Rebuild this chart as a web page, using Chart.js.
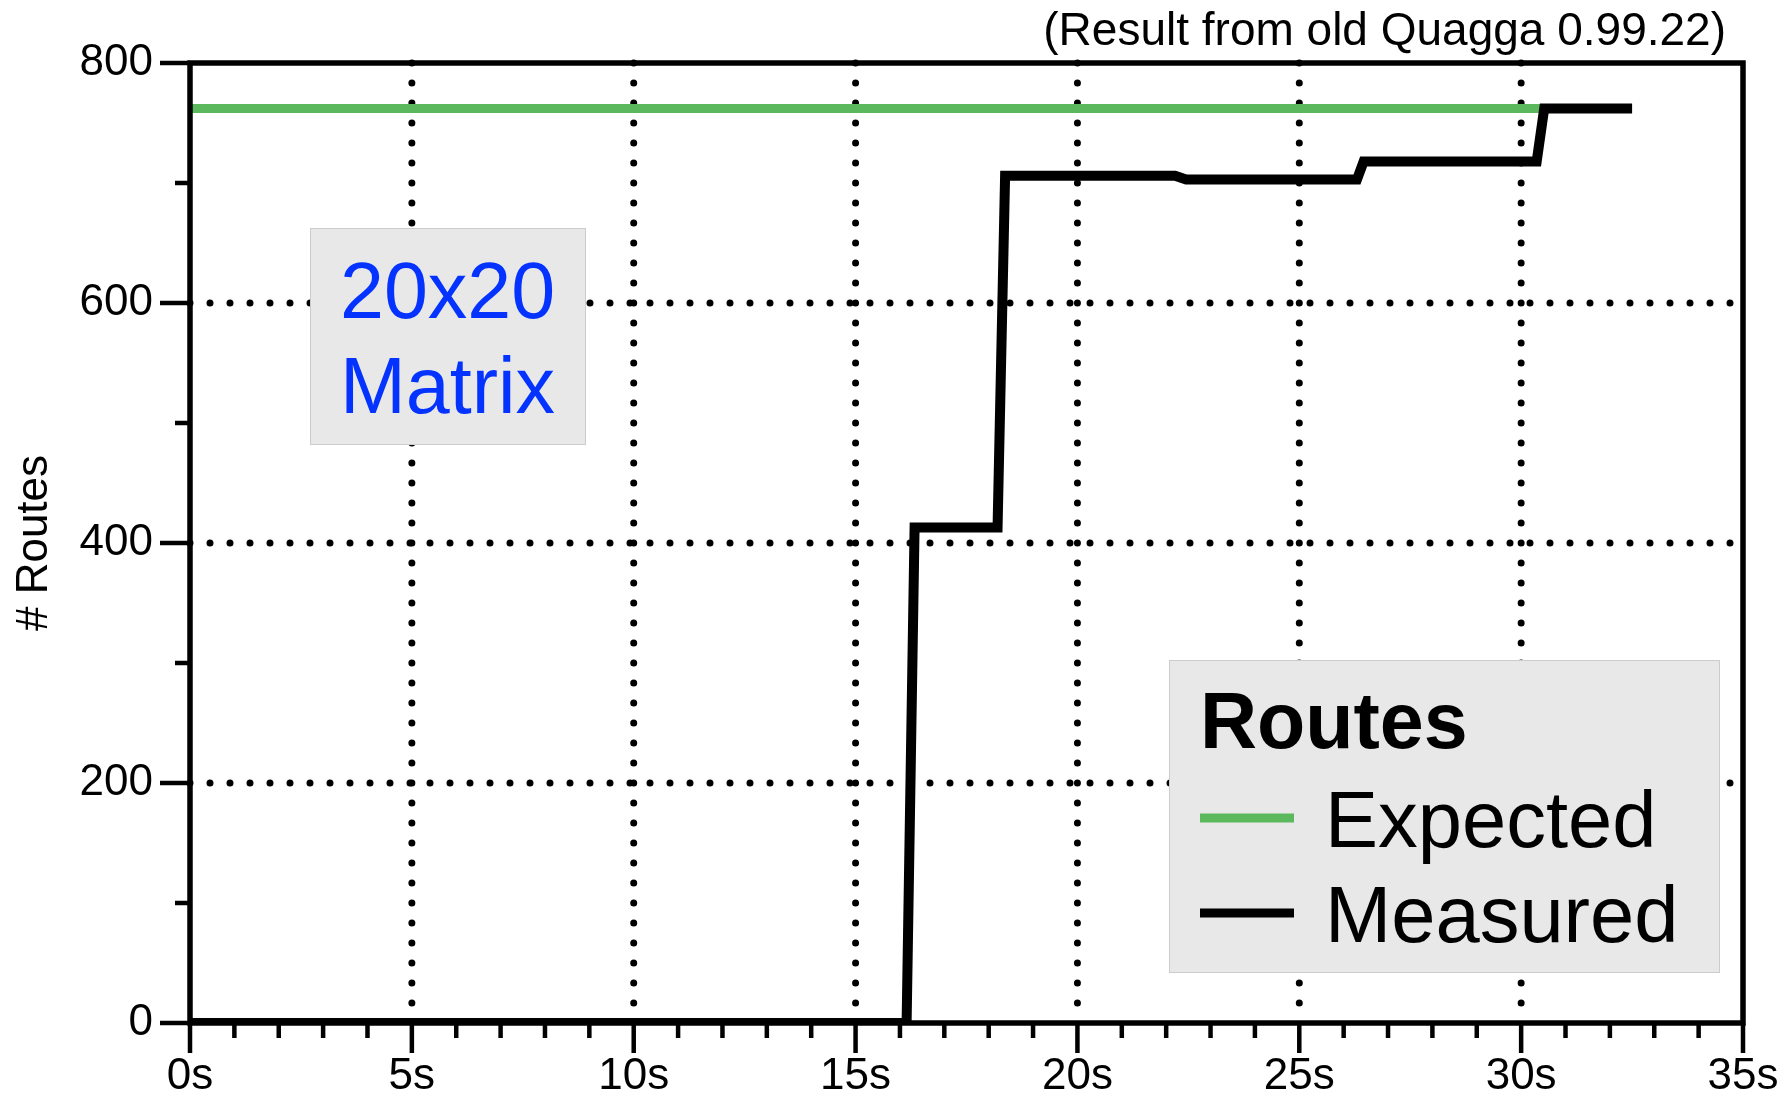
<!DOCTYPE html>
<html><head><meta charset="utf-8">
<script src="https://cdn.jsdelivr.net/npm/chart.js@4/dist/chart.umd.min.js"></script>
<style>html,body{margin:0;padding:0;background:#fff;} #wrap{width:1785px;height:1099px;position:relative;}</style>
</head><body><div id="wrap"><canvas id="c"></canvas></div>
<script>
// ---- data ----
const measuredTimes  = [0, 16.15, 16.33, 18.2, 18.37, 22.2, 22.45, 26.3, 26.45, 30.35, 30.52, 32.5];
const measuredRoutes = [0, 0,     413,   413,  706,   706,  703,   703,  718,   718,   762,   762];
const expectedTimes  = [0, 32.5];
const expectedRoutes = [762, 762];
const xMajorTicks = [0, 5, 10, 15, 20, 25, 30, 35];
const xMinorStep = 1;
const yMajorTicks = [0, 200, 400, 600, 800];
const yMinorStep = 100;
const seriesNames  = ['Expected', 'Measured'];
const seriesColors = ['#5cb85c', '#000000'];
const legendTitle = 'Routes';
const annotationLines = ['20x20', 'Matrix'];
const subtitle = '(Result from old Quagga 0.99.22)';
const yTitle = '# Routes';

const FONT = '"Liberation Sans", Arial, Helvetica, sans-serif';

const decor = {
  id: 'decor',
  beforeDatasetsDraw(chart) {
    const {ctx, chartArea: a, scales: {x, y}} = chart;
    ctx.save();
    ctx.strokeStyle = '#000'; ctx.lineWidth = 7; ctx.lineCap = 'round'; ctx.setLineDash([0, 20]);
    xMajorTicks.forEach(v => {
      if (v <= x.min || v >= x.max) return;
      const px = x.getPixelForValue(v);
      ctx.beginPath(); ctx.moveTo(px, a.top); ctx.lineTo(px, a.bottom); ctx.stroke();
    });
    yMajorTicks.forEach(v => {
      if (v <= y.min || v >= y.max) return;
      const py = y.getPixelForValue(v);
      ctx.beginPath(); ctx.moveTo(a.left, py); ctx.lineTo(a.right, py); ctx.stroke();
    });
    ctx.restore();
  },
  afterDatasetsDraw(chart) {
    const {ctx, chartArea: a, scales: {x, y}} = chart;
    ctx.save();
    ctx.setLineDash([]);
    // frame
    ctx.strokeStyle = '#000'; ctx.lineWidth = 5.5;
    ctx.strokeRect(a.left, a.top, a.right - a.left, a.bottom - a.top);
    // ticks
    ctx.lineWidth = 4.5; ctx.lineCap = 'butt';
    for (let v = x.min; v <= x.max + 1e-9; v += xMinorStep) {
      const px = x.getPixelForValue(v);
      const len = xMajorTicks.includes(v) ? 30 : 15;
      ctx.beginPath(); ctx.moveTo(px, a.bottom); ctx.lineTo(px, a.bottom + len); ctx.stroke();
    }
    for (let v = y.min; v <= y.max + 1e-9; v += yMinorStep) {
      const py = y.getPixelForValue(v);
      const len = yMajorTicks.includes(v) ? 30 : 15;
      ctx.beginPath(); ctx.moveTo(a.left, py); ctx.lineTo(a.left - len, py); ctx.stroke();
    }
    // annotation box
    ctx.fillStyle = '#e8e8e8'; ctx.strokeStyle = '#cccccc'; ctx.lineWidth = 1;
    ctx.fillRect(310, 228, 275, 216); ctx.strokeRect(310.5, 228.5, 275, 216);
    ctx.fillStyle = '#0433ff'; ctx.font = '79px ' + FONT; ctx.textAlign = 'left'; ctx.textBaseline = 'alphabetic';
    ctx.fillText(annotationLines[0], 340, 318);
    ctx.fillText(annotationLines[1], 340, 413);
    // legend box
    ctx.fillStyle = '#e8e8e8'; ctx.strokeStyle = '#cccccc';
    ctx.fillRect(1169, 660, 550, 312); ctx.strokeRect(1169.5, 660.5, 550, 312);
    ctx.fillStyle = '#000'; ctx.font = 'bold 79px ' + FONT;
    ctx.fillText(legendTitle, 1200, 748);
    const ds = chart.data.datasets;
    const rows = [818, 913], base = [847, 942];
    ds.forEach((d, i) => {
      ctx.strokeStyle = d.borderColor; ctx.lineWidth = 9;
      ctx.beginPath(); ctx.moveTo(1200, rows[i]); ctx.lineTo(1294, rows[i]); ctx.stroke();
      ctx.fillStyle = '#000'; ctx.font = '79.5px ' + FONT;
      ctx.fillText(d.label, 1325, base[i]);
    });
    // subtitle
    ctx.fillStyle = '#000'; ctx.font = '46px ' + FONT; ctx.textAlign = 'right';
    ctx.fillText(subtitle, 1726, 45);
    ctx.restore();
  }
};

const toPts = (xs, ys) => xs.map((t, i) => ({x: t, y: ys[i]}));

new Chart(document.getElementById('c'), {
  type: 'line',
  data: {
    datasets: [
      {label: seriesNames[0], data: toPts(expectedTimes, expectedRoutes), borderColor: seriesColors[0], order: 2,
       borderWidth: 9, pointRadius: 0, tension: 0, fill: false, borderCapStyle: 'butt', borderJoinStyle: 'miter'},
      {label: seriesNames[1], data: toPts(measuredTimes, measuredRoutes), borderColor: seriesColors[1], order: 1,
       borderWidth: 10, pointRadius: 0, tension: 0, fill: false, borderCapStyle: 'butt', borderJoinStyle: 'miter'}
    ]
  },
  options: {
    responsive: true, maintainAspectRatio: false, animation: false, devicePixelRatio: 1,
    layout: {padding: {top: 63, right: 42, left: 0, bottom: 0}},
    plugins: {legend: {display: false}, tooltip: {enabled: false}, title: {display: false}},
    scales: {
      x: {
        type: 'linear', min: 0, max: 35,
        grid: {display: false}, border: {display: false},
        afterBuildTicks: s => { s.ticks = xMajorTicks.map(v => ({value: v})); },
        ticks: {padding: 19, color: '#000', font: {size: 44, family: FONT}, maxRotation: 0, autoSkip: false,
                callback: v => v + 's'},
        afterFit: s => { s.height = 76; s.paddingLeft = 0; s.paddingRight = 0; }
      },
      y: {
        type: 'linear', min: 0, max: 800,
        grid: {display: false}, border: {display: false},
        afterBuildTicks: s => { s.ticks = yMajorTicks.map(v => ({value: v})); },
        ticks: {padding: 29, color: '#000', font: {size: 44, family: FONT}, callback: v => String(v)},
        title: {display: true, text: yTitle, color: '#000', font: {size: 44, family: FONT}, padding: {top: 8, bottom: 0}},
        afterFit: s => { s.width = 190; s.paddingTop = 0; s.paddingBottom = 0; }
      }
    }
  },
  plugins: [decor]
});
</script>
</body></html>
